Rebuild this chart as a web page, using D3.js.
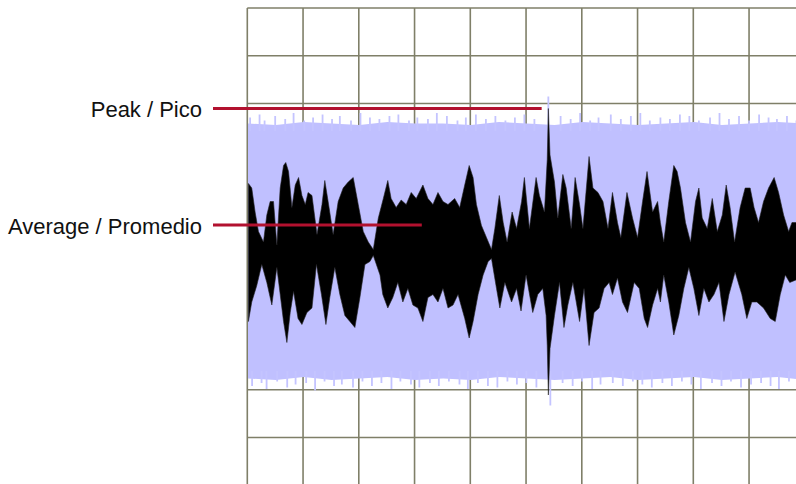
<!DOCTYPE html>
<html>
<head>
<meta charset="utf-8">
<script src="https://cdn.jsdelivr.net/npm/d3@7"></script>
<style>
  html, body { margin: 0; padding: 0; background: #fff; }
  svg { display: block; }
</style>
</head>
<body>
<div id="container"></div>
<script>
/* CONSTANTS AND GLOBALS */
const width = 796;
const height = 484;

/* peak band body - time (s), upper and lower level (% of full scale) */
const bandTime = [0,0.5,1,1.5,2,2.5,3,3.5,4,4.5,5,5.5,6,6.5,7,7.5,8,8.5,9,9.5,10];
const bandHigh = [85,84,86,85,84,86,85,85,84,86,85,84,86,85,84,85,86,84,85,86,85];
const bandLow = [-85,-86,-84,-86,-85,-84,-86,-85,-86,-84,-85,-86,-85,-84,-86,-85,-84,-86,-85,-84,-86];

/* thin peaks sticking out of the band */
const spikeTime = [0.05,0.22,0.31,0.5,0.68,0.83,1.02,1.18,1.35,1.52,1.66,1.86,2.03,2.2,2.37,2.55,2.71,2.9,3.05,3.24,
  3.4,3.58,3.77,3.92,4.1,4.28,4.45,4.63,4.8,4.97,5.15,5.40,5.62,5.8,5.97,6.15,6.3,6.52,6.7,6.88,
  7.05,7.22,7.41,7.58,7.76,7.93,8.1,8.3,8.47,8.64,8.82,9.0,9.18,9.35,9.5,9.68,9.85];
const spikeHigh = [89,91,87,90,88,92,87,89,91,88,90,87,92,89,88,90,91,87,89,88,
  92,90,87,89,91,88,90,87,89,91,88,103,90,88,92,87,89,91,88,90,
  92,87,89,88,91,90,87,89,92,88,90,87,91,89,88,90,87];
const spikeLow = [-90,-88,-92,-87,-91,-89,-88,-93,-87,-90,-89,-91,-87,-90,-88,-92,-87,-89,-91,-88,
  -90,-87,-89,-92,-88,-90,-91,-87,-89,-88,-91,-103,-88,-90,-87,-92,-89,-88,-90,-87,
  -89,-91,-88,-90,-87,-89,-92,-88,-90,-87,-91,-89,-88,-90,-92,-87,-89];

/* average waveform - upper envelope */
const upperTime = [0.02,0.08,0.14,0.2,0.29,0.35,0.41,0.47,0.53,0.59,0.65,0.69,0.74,0.8,0.86,0.92,0.98,1.04,1.09,1.16,
  1.25,1.34,1.39,1.45,1.54,1.63,1.72,1.81,1.9,1.99,2.08,2.17,2.26,2.35,2.44,2.52,2.58,2.67,2.76,2.85,
  2.94,3.03,3.15,3.24,3.33,3.42,3.51,3.6,3.72,3.81,3.9,3.98,4.05,4.11,4.2,4.29,4.38,4.44,4.52,4.59,
  4.66,4.75,4.83,4.92,4.97,5.06,5.18,5.24,5.33,5.38,5.40,5.43,5.51,5.57,5.66,5.72,5.81,5.88,5.96,6.02,
  6.13,6.2,6.29,6.38,6.47,6.55,6.64,6.7,6.81,6.91,7.0,7.09,7.17,7.27,7.36,7.41,7.47,7.56,7.65,7.71,
  7.77,7.86,7.95,8.04,8.1,8.16,8.25,8.34,8.43,8.52,8.59,8.66,8.74,8.84,8.93,9.02,9.09,9.17,9.26,9.35,
  9.45,9.53,9.62,9.71,9.77,9.86];
const upperValue = [45,42,26,13,6,24,33,33,4,42,57,59,53,29,44,49,37,31,39,37,
  11,31,47,33,11,33,42,46,49,31,13,6,1,22,35,47,35,29,34,31,
  39,35,44,35,31,39,33,31,35,29,44,57,49,31,17,9,1,15,37,19,
  6,26,15,33,49,15,49,37,26,61,95,64,46,22,51,42,15,49,31,15,
  63,42,39,33,15,39,19,9,39,22,9,33,53,26,33,19,6,33,57,53,
  42,19,6,33,42,22,15,35,13,24,44,29,6,29,42,42,29,19,33,42,
  49,39,24,13,19,19];

/* average waveform - lower envelope */
const lowerTime = [0.02,0.08,0.17,0.26,0.35,0.44,0.53,0.59,0.65,0.71,0.77,0.83,0.91,0.98,1.07,1.16,1.24,1.33,1.41,1.48,
  1.57,1.66,1.75,1.84,1.93,2.02,2.11,2.2,2.26,2.38,2.43,2.52,2.61,2.7,2.79,2.88,2.97,3.06,3.15,3.24,
  3.33,3.42,3.51,3.6,3.69,3.78,3.9,3.98,4.05,4.14,4.23,4.32,4.38,4.47,4.53,4.62,4.74,4.83,4.91,5.0,
  5.12,5.21,5.3,5.36,5.38,5.40,5.43,5.51,5.6,5.68,5.75,5.84,5.9,5.96,6.04,6.13,6.22,6.31,6.4,6.49,
  6.55,6.64,6.73,6.82,6.94,7.03,7.12,7.18,7.27,7.36,7.41,7.47,7.56,7.65,7.74,7.83,7.92,8.01,8.1,8.19,
  8.28,8.37,8.46,8.55,8.64,8.75,8.87,8.96,9.05,9.14,9.26,9.38,9.47,9.56,9.65,9.73,9.86];
const lowerValue = [-47,-34,-23,-9,-21,-36,-11,-29,-47,-61,-41,-27,-45,-49,-41,-38,-9,-29,-49,-31,
  -11,-29,-43,-47,-51,-31,-9,-7,-3,-16,-29,-38,-31,-21,-34,-25,-36,-38,-47,-31,
  -29,-34,-25,-38,-36,-29,-45,-58,-47,-29,-16,-7,-5,-25,-38,-21,-34,-25,-40,-16,
  -41,-29,-25,-43,-63,-96,-65,-43,-21,-51,-36,-21,-34,-47,-25,-63,-41,-38,-25,-21,
  -29,-18,-34,-41,-21,-25,-45,-51,-36,-25,-34,-16,-34,-56,-43,-25,-11,-25,-43,-25,
  -34,-29,-21,-47,-29,-14,-29,-45,-34,-34,-38,-45,-47,-29,-16,-21,-19];

/* callouts */
const labels = ["Peak / Pico", "Average / Promedio"];
const labelLevel = [95, 17.3];    /* level (%) where each leader sits */
const labelReach = [5.28, 3.13];  /* time (s) where each leader ends */

const svg = d3.select("#container")
  .append("svg")
  .attr("width", width)
  .attr("height", height);

/* SCALES */
const xScale = d3.scaleLinear().domain([0, 10]).range([247.3, 804.8]);
const yScale = d3.scaleLinear().domain([-100, 100]).range([401, 101]);
const gridY = d3.scaleLinear().domain([0, 9]).range([8, 437.5]);

/* GRID */
const grid = svg.append("g")
  .attr("stroke", "#7f7f68")
  .attr("stroke-width", 1.6);

grid.selectAll(".vline")
  .data(xScale.ticks(10))
  .join("line")
  .attr("class", "vline")
  .attr("x1", d => xScale(d)).attr("x2", d => xScale(d))
  .attr("y1", gridY(0)).attr("y2", height);

grid.selectAll(".hline")
  .data(gridY.ticks(9))
  .join("line")
  .attr("class", "hline")
  .attr("x1", xScale(0)).attr("x2", width)
  .attr("y1", d => gridY(d)).attr("y2", d => gridY(d));

/* PEAK BAND */
const band = bandTime.map((t, i) => ({ t, hi: bandHigh[i], lo: bandLow[i] }));
svg.append("path")
  .datum(band)
  .attr("fill", "#c0c0ff")
  .attr("d", d3.area()
    .x(d => xScale(d.t) + 0.7)
    .y0(d => yScale(d.lo))
    .y1(d => yScale(d.hi)));

/* thin peaks above and below the band */
const spikes = svg.append("g")
  .attr("stroke", "#c4c4ff")
  .attr("stroke-width", 1.8);

spikes.selectAll(".up")
  .data(spikeTime)
  .join("line")
  .attr("class", "up")
  .attr("x1", d => xScale(d)).attr("x2", d => xScale(d))
  .attr("y1", yScale(80))
  .attr("y2", (d, i) => yScale(spikeHigh[i]));

spikes.selectAll(".down")
  .data(spikeTime)
  .join("line")
  .attr("class", "down")
  .attr("x1", d => xScale(d) + 2).attr("x2", d => xScale(d) + 2)
  .attr("y1", yScale(-80))
  .attr("y2", (d, i) => yScale(spikeLow[i]));

/* AVERAGE WAVEFORM: upper envelope forward, lower envelope back */
const outline = upperTime.map((t, i) => [xScale(t), yScale(upperValue[i])])
  .concat(lowerTime.map((t, i) => [xScale(t), yScale(lowerValue[i])]).reverse());
svg.append("path")
  .attr("fill", "#000")
  .attr("stroke", "#222")
  .attr("stroke-width", 0.6)
  .attr("d", d3.line()(outline) + "Z");

/* CALLOUT LEADERS AND LABELS */
svg.selectAll(".callout")
  .data(labels)
  .join("line")
  .attr("class", "callout")
  .attr("x1", 213)
  .attr("x2", (d, i) => xScale(labelReach[i]))
  .attr("y1", (d, i) => yScale(labelLevel[i]))
  .attr("y2", (d, i) => yScale(labelLevel[i]))
  .attr("stroke", "#b2112f")
  .attr("stroke-width", 3);

svg.selectAll(".label")
  .data(labels)
  .join("text")
  .attr("class", "label")
  .attr("x", 202)
  .attr("y", (d, i) => yScale(labelLevel[i]) + 8.5)
  .attr("text-anchor", "end")
  .attr("font-family", "'Liberation Sans', Arial, sans-serif")
  .attr("font-size", "22px")
  .attr("fill", "#111")
  .text(d => d);
</script>
</body>
</html>
